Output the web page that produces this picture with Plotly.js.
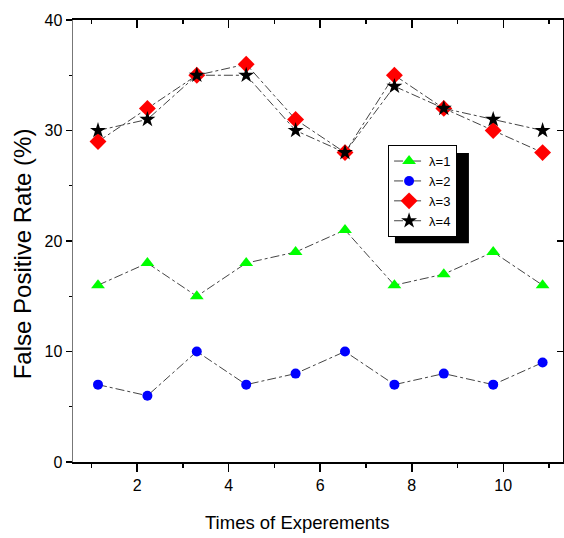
<!DOCTYPE html>
<html>
<head>
<meta charset="utf-8">
<script src="https://cdn.plot.ly/plotly-3.0.1.min.js"></script>
<style>html,body{margin:0;padding:0;background:#fff;}#chart{width:564px;height:538px;}</style>
</head>
<body>
<div id="chart"></div>
<script>
const experiments = [1, 2, 3, 4, 5, 6, 7, 8, 9, 10];
const lambda1 = [16, 18, 15, 18, 19, 21, 16, 17, 19, 16];
const lambda2 = [7, 6, 10, 7, 8, 10, 7, 8, 7, 9];
const lambda3 = [29, 32, 35, 36, 31, 28, 35, 32, 30, 28];
const lambda4 = [30, 31, 35, 35, 30, 28, 34, 32, 31, 30];
const seriesNames = ['λ=1', 'λ=2', 'λ=3', 'λ=4'];
const xTickVals = [2, 4, 6, 8, 10];
const yTickVals = [0, 10, 20, 30, 40];

const FONT = 'Liberation Sans, Arial, sans-serif';
const lineStyle = {color: '#444', width: 1, dash: 'dashdot'};

function trace(y, name, symbol, color, size) {
  return {
    x: experiments, y: y, name: name, type: 'scatter', mode: 'lines+markers',
    xaxis: 'x', yaxis: 'y',
    line: lineStyle,
    marker: {symbol: symbol, color: color, size: size, line: {width: 0}}
  };
}

const data = [
  trace(lambda1, seriesNames[0], 'triangle-up', '#00ff00', 12),
  trace(lambda2, seriesNames[1], 'circle', '#0000ff', 10),
  trace(lambda3, seriesNames[2], 'diamond', '#ff0000', 13),
  trace(lambda4, seriesNames[3], 'star', '#000000', 12)
];

const tickRange = [0.596, 11.306];
const layout = {
  width: 564, height: 538,
  margin: {l: 73, r: 1, t: 20, b: 76},
  paper_bgcolor: '#fff', plot_bgcolor: '#fff',
  font: {family: FONT, color: '#000', size: 16},
  showlegend: true,
  legend: {
    x: 0.643, y: 0.717, xanchor: 'left', yanchor: 'top',
    bgcolor: '#fff', bordercolor: '#000', borderwidth: 1,
    font: {family: FONT, size: 13, color: '#000'},
    itemwidth: 30, tracegroupgap: 0
  },
  xaxis: {
    range: [0.494, 10.413], showgrid: false, zeroline: false,
    showticklabels: false, ticks: '', showline: false, fixedrange: true
  },
  xaxis2: {
    overlaying: 'x', side: 'bottom', anchor: 'y',
    range: tickRange, showgrid: false, zeroline: false,
    tickvals: xTickVals, ticks: 'outside', ticklen: 8, tickwidth: 1.5, tickcolor: '#000',
    minor: {dtick: 2, tick0: 1, ticks: 'outside', ticklen: 4, tickwidth: 1.5, tickcolor: '#000'},
    showline: true, linecolor: '#000', linewidth: 2,
    tickfont: {family: FONT, size: 16, color: '#000'}
  },
  xaxis3: {
    overlaying: 'x', side: 'top', anchor: 'y',
    range: tickRange, showgrid: false, zeroline: false,
    tickvals: xTickVals, ticks: 'inside', ticklen: 8, tickwidth: 1.5, tickcolor: '#000',
    minor: {dtick: 2, tick0: 1, ticks: 'inside', ticklen: 4, tickwidth: 1.5, tickcolor: '#000'},
    showticklabels: false,
    showline: true, linecolor: '#000', linewidth: 2
  },
  yaxis: {
    range: [0, 40], showgrid: false, zeroline: false,
    tickvals: yTickVals, ticks: 'outside', ticklen: 6, tickwidth: 1.5, tickcolor: '#000',
    minor: {dtick: 5, tick0: 5, ticks: 'outside', ticklen: 3, tickwidth: 1, tickcolor: '#000'},
    showline: true, linecolor: '#777', linewidth: 1.5,
    tickfont: {family: FONT, size: 16, color: '#000'}
  },
  yaxis2: {
    overlaying: 'y', side: 'right', anchor: 'x',
    range: [0, 40], showgrid: false, zeroline: false,
    tickvals: yTickVals, ticks: 'inside', ticklen: 6, tickwidth: 1.5, tickcolor: '#000',
    showticklabels: false, showline: true, linecolor: '#000', linewidth: 1.5
  },
  shapes: [{
    type: 'rect', xref: 'paper', yref: 'paper', layer: 'above',
    x0: 0.657, x1: 0.808, y0: 0.495, y1: 0.699,
    fillcolor: '#000', line: {width: 0}
  }],
  annotations: [
    {text: 'Times of Experements', xref: 'paper', yref: 'paper', x: 0.457, y: -0.136,
     xanchor: 'center', yanchor: 'middle', showarrow: false,
     font: {family: FONT, size: 18.5, color: '#000'}},
    {text: 'False Positive Rate (%)', xref: 'paper', yref: 'paper', x: -0.104, y: 0.47,
     xanchor: 'center', yanchor: 'middle', showarrow: false, textangle: -90,
     font: {family: FONT, size: 24, color: '#000'}}
  ]
};

// invisible helper traces to activate the overlay tick axes
data.push({x: [1], y: [0], xaxis: 'x2', yaxis: 'y', mode: 'markers', marker: {opacity: 0}, showlegend: false, hoverinfo: 'skip'});
data.push({x: [1], y: [0], xaxis: 'x3', yaxis: 'y2', mode: 'markers', marker: {opacity: 0}, showlegend: false, hoverinfo: 'skip'});

Plotly.newPlot('chart', data, layout, {displayModeBar: false, staticPlot: true});
</script>
</body>
</html>
